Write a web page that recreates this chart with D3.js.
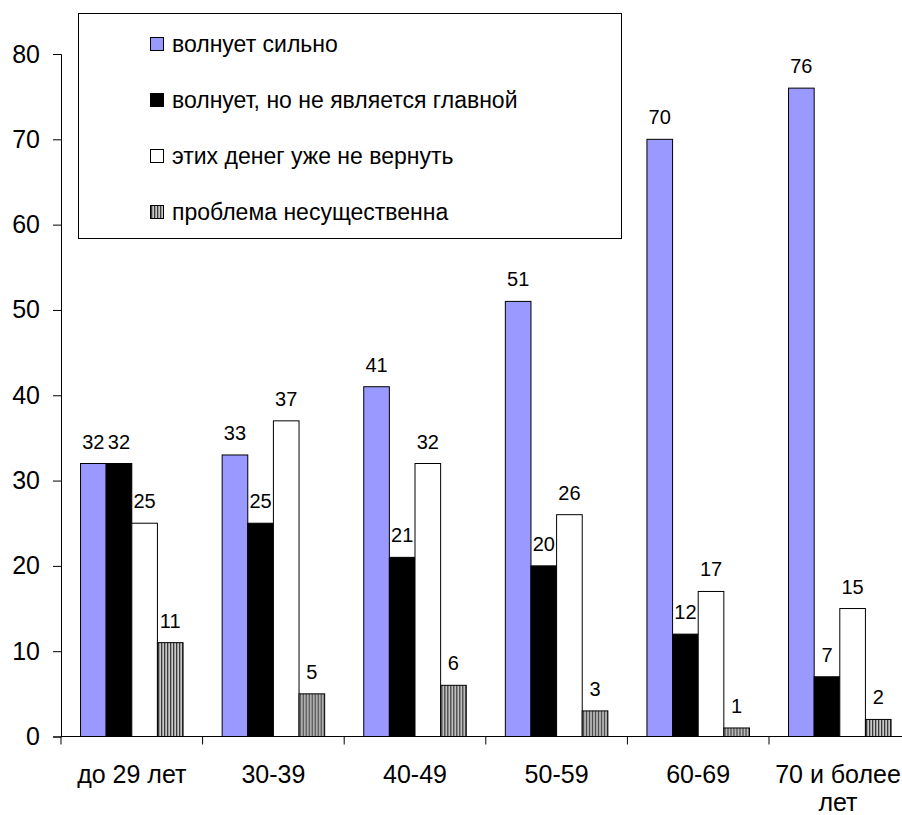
<!DOCTYPE html>
<html>
<head>
<meta charset="utf-8">
<script src="https://cdn.jsdelivr.net/npm/d3@7"></script>
<style>
  body { margin: 0; background: #fff; }
  svg { font-family: "Liberation Sans", Arial, sans-serif; }
  .bar { stroke: #000; stroke-width: 1; }
  .axis path, .axis line { stroke: #000; }
</style>
</head>
<body>
<svg id="chart" width="902" height="815"></svg>
<script>
// age groups
const categories = ["до 29 лет", "30-39", "40-49", "50-59", "60-69", "70 и более лет"];
const seriesNames = ["волнует сильно", "волнует, но не является главной", "этих денег уже не вернуть", "проблема несущественна"];

const strongly = [32, 33, 41, 51, 70, 76];
const notMain = [32, 25, 21, 20, 12, 7];
const lost = [25, 37, 32, 26, 17, 15];
const minor = [11, 5, 6, 3, 1, 2];

const yTicks = [0, 10, 20, 30, 40, 50, 60, 70, 80];

const series = [strongly, notMain, lost, minor];
const fills = ["#9999ff", "#000000", "#ffffff", "url(#hatch)"];

let svg = d3.select("#chart");

let defs = svg.append("defs");
let pat = defs.append("pattern")
    .attr("id", "hatch")
    .attr("patternUnits", "userSpaceOnUse")
    .attr("width", 3).attr("height", 3);
pat.append("rect").attr("width", 3).attr("height", 3).attr("fill", "#c8c8c8");
pat.append("rect").attr("x", 1).attr("width", 1.3).attr("height", 3).attr("fill", "#3a3a3a");

let x0 = d3.scaleBand().domain(categories).range([61, 910.6]);
let x1 = d3.scaleBand().domain(d3.range(4))
    .range([x0.bandwidth() * 0.138, x0.bandwidth() * 0.862]);
let y = d3.scaleLinear().domain([0, 80]).range([736.5, 54]);

// y axis
let yAxis = svg.append("g")
    .attr("class", "axis")
    .attr("transform", "translate(61,0)")
    .call(d3.axisLeft(y).tickValues(yTicks).tickSize(8).tickPadding(13));
yAxis.selectAll("text").style("font-size", "25px").attr("fill", "#000");

// bars
let groups = svg.selectAll("g.cat")
    .data(categories)
    .enter().append("g")
    .attr("class", "cat")
    .attr("transform", (d) => "translate(" + x0(d) + ",0)");

groups.each(function(cat, ci) {
    let g = d3.select(this);
    let vals = series.map((s) => s[ci]);
    g.selectAll("rect")
        .data(vals)
        .enter().append("rect")
        .attr("class", "bar")
        .attr("x", (d, i) => x1(i))
        .attr("y", (d) => y(d))
        .attr("width", x1.bandwidth())
        .attr("height", (d) => y(0) - y(d))
        .attr("fill", (d, i) => fills[i]);

    g.selectAll("text.val")
        .data(vals)
        .enter().append("text")
        .attr("class", "val")
        .attr("x", (d, i) => x1(i) + x1.bandwidth() / 2)
        .attr("y", (d) => y(d) - 15)
        .attr("text-anchor", "middle")
        .style("font-size", "20px")
        .text((d) => d);
});

// x axis
let xAxis = svg.append("g")
    .attr("class", "axis")
    .attr("transform", "translate(0," + y(0) + ")");
xAxis.append("line").attr("x1", 61).attr("x2", 902).attr("y1", 0).attr("y2", 0);
xAxis.selectAll("line.tick")
    .data(categories)
    .enter().append("line")
    .attr("class", "tick")
    .attr("x1", (d) => x0(d))
    .attr("x2", (d) => x0(d))
    .attr("y1", 0).attr("y2", 8);

// last label would run past the right edge, keep it just inside
const labelX = (d) => Math.min(x0(d) + x0.bandwidth() / 2, 838);

let labels = xAxis.selectAll("text")
    .data(categories)
    .enter().append("text")
    .attr("x", labelX)
    .attr("y", 46)
    .attr("text-anchor", "middle")
    .style("font-size", "25px");
labels.each(function(d) {
    let t = d3.select(this);
    let lines = d === "70 и более лет" ? ["70 и более", "лет"] : [d];
    lines.forEach((ln, k) => {
        t.append("tspan").attr("x", labelX(d))
            .attr("dy", k === 0 ? 0 : 28).text(ln);
    });
});

// legend
let legend = svg.append("g");
legend.append("rect")
    .attr("x", 78.5).attr("y", 13.5).attr("width", 543).attr("height", 225)
    .attr("fill", "#fff").attr("stroke", "#000");
let items = legend.selectAll("g.item")
    .data(seriesNames)
    .enter().append("g")
    .attr("class", "item")
    .attr("transform", (d, i) => "translate(150," + (44 + i * 56) + ")");
items.append("rect")
    .attr("x", 0.5).attr("y", -6.5).attr("width", 13).attr("height", 13)
    .attr("fill", (d, i) => fills[i]).attr("stroke", "#000");
items.append("text")
    .attr("x", 22).attr("y", 8)
    .style("font-size", "23px")
    .text((d) => d);
</script>
</body>
</html>
